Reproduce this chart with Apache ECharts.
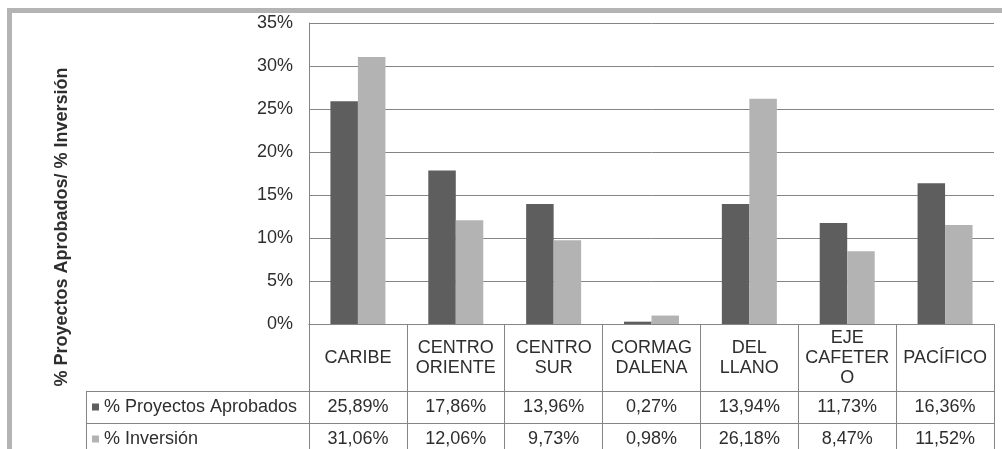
<!DOCTYPE html>
<html>
<head>
<meta charset="utf-8">
<script src="https://cdn.jsdelivr.net/npm/echarts@6/dist/echarts.min.js"></script>
<style>
  html, body { margin: 0; padding: 0; background: #ffffff; }
  #chart { width: 1002px; height: 449px; }
</style>
</head>
<body>
<div id="chart"></div>
<script>
// Regions (category labels, with line breaks as set in the table header)
const categories = ['CARIBE', 'CENTRO\nORIENTE', 'CENTRO\nSUR', 'CORMAG\nDALENA', 'DEL\nLLANO', 'EJE\nCAFETER\nO', 'PACÍFICO'];
// Share of approved projects per region (%)
const proyectosAprobados = [25.89, 17.86, 13.96, 0.27, 13.94, 11.73, 16.36];
// Share of investment per region (%)
const inversion = [31.06, 12.06, 9.73, 0.98, 26.18, 8.47, 11.52];
// Value axis ticks (%)
const yMin = 0, yMax = 35, yStep = 5;

const seriesNames = ['% Proyectos Aprobados', '% Inversión'];
const axisTitle = '% Proyectos Aprobados/ % Inversión';

const fmt = v => v.toFixed(2).replace('.', ',') + '%';

const lineColor = '#858585';
const textColor = '#2e2e2e';
const font = 'Liberation Sans, Arial, sans-serif';

const chart = echarts.init(document.getElementById('chart'), null, { renderer: 'canvas' });

const gridBox = { left: 309, right: 8, top: 23, bottom: 125 };
const tableLeft = 86, tableRight = 1002 - gridBox.right;

function valueRowAxis(values, margin) {
  return {
    type: 'category',
    data: values.map(fmt),
    position: 'bottom',
    axisLine: { show: false },
    axisTick: { show: false },
    axisLabel: {
      interval: 0, margin: margin, verticalAlign: 'middle',
      fontSize: 18, color: textColor, fontFamily: font
    }
  };
}

function rowLegend(name, top) {
  return {
    data: [name], left: 92, top: top, padding: 0, orient: 'horizontal',
    icon: 'rect', itemWidth: 7, itemHeight: 7, selectedMode: false,
    textStyle: { fontSize: 18, color: textColor, fontFamily: font, lineHeight: 20 }
  };
}

chart.setOption({
  backgroundColor: '#ffffff',
  animation: false,
  grid: Object.assign({ outerBoundsMode: 'none', containLabel: false }, gridBox),
  legend: [
    rowLegend(seriesNames[0], 397),
    rowLegend(seriesNames[1], 429)
  ],
  xAxis: [
    {
      type: 'category',
      data: categories,
      position: 'bottom',
      axisLine: { show: true, lineStyle: { color: lineColor, width: 1 } },
      // boundary ticks run down through the table as column dividers
      axisTick: { show: true, interval: 0, length: 125, lineStyle: { color: lineColor, width: 1 } },
      axisLabel: {
        interval: 0, margin: 34, verticalAlign: 'middle', align: 'center',
        fontSize: 18, lineHeight: 20, color: textColor, fontFamily: font
      }
    },
    valueRowAxis(proyectosAprobados, 83),
    valueRowAxis(inversion, 115)
  ],
  yAxis: {
    type: 'value',
    min: yMin, max: yMax, interval: yStep,
    axisLine: { show: true, lineStyle: { color: lineColor, width: 1 } },
    axisTick: { show: false },
    splitLine: { show: true, lineStyle: { color: lineColor, width: 1 } },
    axisLabel: {
      margin: 16, fontSize: 18, color: textColor, fontFamily: font,
      formatter: '{value}%'
    }
  },
  series: [
    {
      name: seriesNames[0], type: 'bar', xAxisIndex: 0,
      data: proyectosAprobados, barWidth: 27.5, barGap: '0%',
      itemStyle: { color: '#5e5e5e' }
    },
    {
      name: seriesNames[1], type: 'bar', xAxisIndex: 0,
      data: inversion, barWidth: 27.5, barGap: '0%',
      itemStyle: { color: '#b3b3b3' }
    }
  ],
  graphic: [
    // outer frame (top and left edges)
    { type: 'rect', shape: { x: 7, y: 8, width: 995, height: 5 }, style: { fill: '#b4b4b4' }, silent: true },
    { type: 'rect', shape: { x: 7, y: 8, width: 5, height: 441 }, style: { fill: '#b4b4b4' }, silent: true },
    // table row dividers and left edge
    { type: 'line', shape: { x1: tableLeft, y1: 391.5, x2: tableRight, y2: 391.5 }, style: { stroke: lineColor, lineWidth: 1 }, silent: true },
    { type: 'line', shape: { x1: tableLeft, y1: 423.5, x2: tableRight, y2: 423.5 }, style: { stroke: lineColor, lineWidth: 1 }, silent: true },
    { type: 'line', shape: { x1: tableLeft + 0.5, y1: 391, x2: tableLeft + 0.5, y2: 449 }, style: { stroke: lineColor, lineWidth: 1 }, silent: true },
    // value axis title
    {
      type: 'text', x: 62, y: 227, rotation: Math.PI / 2,
      style: {
        text: axisTitle, fill: textColor, font: 'bold 18px ' + font,
        textAlign: 'center', textVerticalAlign: 'middle'
      },
      silent: true
    }
  ]
});
</script>
</body>
</html>
